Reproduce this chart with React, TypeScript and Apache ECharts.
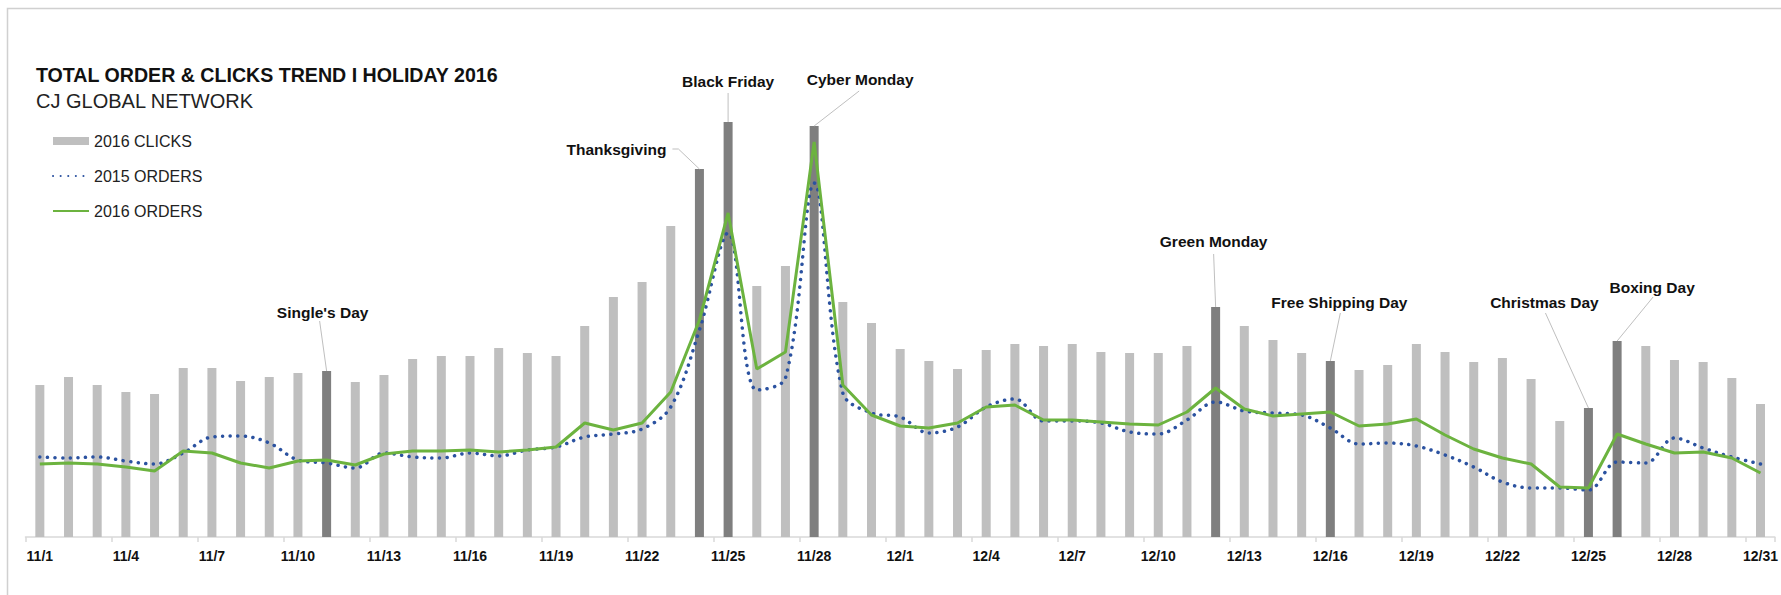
import React, { useEffect, useRef } from "react";
import * as echarts from "echarts";

const days = [
  "11/1", "11/2", "11/3", "11/4", "11/5", "11/6", "11/7", "11/8", "11/9", "11/10",
  "11/11", "11/12", "11/13", "11/14", "11/15", "11/16", "11/17", "11/18", "11/19", "11/20",
  "11/21", "11/22", "11/23", "11/24", "11/25", "11/26", "11/27", "11/28", "11/29", "11/30",
  "12/1", "12/2", "12/3", "12/4", "12/5", "12/6", "12/7", "12/8", "12/9", "12/10",
  "12/11", "12/12", "12/13", "12/14", "12/15", "12/16", "12/17", "12/18", "12/19", "12/20",
  "12/21", "12/22", "12/23", "12/24", "12/25", "12/26", "12/27", "12/28", "12/29", "12/30", "12/31",
];

const clicks2016 = [
  152, 160, 152, 145, 143, 169, 169, 156, 160, 164,
  166, 155, 162, 178, 181, 181, 189, 184, 181, 211,
  240, 255, 311, 368, 415, 251, 271, 411, 235, 214,
  188, 176, 168, 187, 193, 191, 193, 185, 184, 184,
  191, 230, 211, 197, 184, 176, 167, 172, 193, 185,
  175, 179, 158, 116, 129, 196, 191, 177, 175, 159, 133,
];

const orders2015 = [
  80, 79, 80, 76, 73, 84, 100, 101, 94, 77,
  74, 69, 84, 80, 79, 84, 81, 87, 90, 100,
  103, 108, 130, 207, 304, 147, 159, 354, 144, 124,
  120, 104, 110, 130, 138, 116, 116, 114, 105, 103,
  117, 135, 126, 124, 122, 109, 93, 94, 91, 82,
  70, 55, 49, 49, 47, 75, 74, 99, 89, 80, 73,
];

const orders2016 = [
  73, 74, 73, 70, 66, 86, 84, 74, 69, 76,
  77, 72, 83, 86, 86, 87, 85, 87, 90, 114,
  107, 114, 145, 217, 324, 168, 185, 395, 152, 122,
  111, 109, 114, 130, 132, 117, 117, 115, 113, 112,
  125, 149, 128, 121, 123, 125, 111, 113, 118, 102,
  88, 79, 73, 50, 49, 103, 93, 84, 85, 79, 64,
];

const highlightDays = ["11/11", "11/24", "11/25", "11/28", "12/12", "12/16", "12/25", "12/26"];

const eventDays = ["11/11", "11/24", "11/25", "11/28", "12/12", "12/16", "12/25", "12/26"];
const eventNames = [
  "Single's Day", "Thanksgiving", "Black Friday", "Cyber Monday",
  "Green Monday", "Free Shipping Day", "Christmas Day", "Boxing Day",
];

const seriesNames = ["2016 CLICKS", "2015 ORDERS", "2016 ORDERS"];
const titleText = "TOTAL ORDER & CLICKS TREND I HOLIDAY 2016";
const subtitleText = "CJ GLOBAL NETWORK";

// label layout relative to the bar top: text anchor offset, align, leader line points
const eventLayout = [
  { tx: -4, ty: -59, align: "center", pts: [[-7, -50], [0, 0]] },
  { tx: -33, ty: -20, align: "right", pts: [[-27, -20], [-21, -20], [0, 0]] },
  { tx: 0, ty: -41, align: "center", pts: [[0, -29], [0, 0]] },
  { tx: 46, ty: -47, align: "center", pts: [[45, -35], [0, 0]] },
  { tx: -2, ty: -66, align: "center", pts: [[-2, -53], [0, 0]] },
  { tx: 9, ty: -59, align: "center", pts: [[10, -48], [0, 0]] },
  { tx: -44, ty: -106, align: "center", pts: [[-43, -95], [0, 0]] },
  { tx: 35, ty: -54, align: "center", pts: [[36, -44], [0, 0]] },
];

const FONT = "'Liberation Sans', Arial, Helvetica, sans-serif";
const LIGHT = "#bfbfbf";
const DARK = "#7f7f7f";
const GREEN = "#6cb33f";
const BLUE = "#2b52a0";

export default function App() {
  const ref = useRef<HTMLDivElement>(null);

  useEffect(() => {
    const el = ref.current;
    if (!el) return;
    const chart = echarts.init(el, null, { renderer: "svg" });

    const option: any = {
      animation: false,
      backgroundColor: "#ffffff",
      grid: { left: 25.5, right: 3.5, top: 37, bottom: 58, containLabel: false },
      legend: {
        orient: "vertical",
        left: 52,
        top: 133,
        padding: 0,
        itemWidth: 36,
        itemHeight: 8,
        itemGap: 19,
        textStyle: { fontFamily: FONT, fontSize: 16, color: "#222", lineHeight: 16 },
        data: [
          { name: seriesNames[0], icon: "rect" },
          { name: seriesNames[1], itemStyle: { opacity: 0 } },
          { name: seriesNames[2], itemStyle: { opacity: 0 } },
        ],
      },
      xAxis: {
        type: "category",
        data: days,
        boundaryGap: true,
        axisLine: { show: true, lineStyle: { color: "#d9d9d9", width: 1.5 } },
        axisTick: { show: true, interval: 2, length: 5, lineStyle: { color: "#d9d9d9", width: 1.5 } },
        axisLabel: {
          interval: 2,
          margin: 12,
          fontFamily: FONT,
          fontSize: 14,
          fontWeight: "bold",
          color: "#111",
        },
      },
      yAxis: {
        type: "value",
        min: 0,
        max: 500,
        show: false,
        splitLine: { show: false },
      },
      series: [
        {
          name: seriesNames[0],
          type: "bar",
          barWidth: 9,
          itemStyle: { color: LIGHT },
          data: clicks2016.map((v, i) =>
            highlightDays.includes(days[i]) ? { value: v, itemStyle: { color: DARK } } : v
          ),
          z: 1,
        },
        {
          name: seriesNames[1],
          type: "line",
          symbol: "none",
          smooth: 0.35,
          color: BLUE,
          lineStyle: { color: BLUE, width: 3.5, type: [0.1, 7.5], cap: "round" },
          data: orders2015,
          z: 3,
        },
        {
          name: seriesNames[2],
          type: "line",
          symbol: "none",
          smooth: false,
          color: GREEN,
          lineStyle: { color: GREEN, width: 3 },
          data: orders2016,
          z: 4,
        },
      ],
    };
    chart.setOption(option);

    const graphics: any[] = [
      {
        type: "rect",
        silent: true,
        shape: { x: 7.5, y: 8.5, width: 1900, height: 900 },
        style: { fill: "none", stroke: "#d0d0d0", lineWidth: 1.5 },
        z: 0,
      },
      {
        type: "text",
        x: 36,
        y: 75,
        style: {
          text: titleText,
          fontFamily: FONT,
          fontSize: 19.6,
          fontWeight: "bold",
          fill: "#111",
          align: "left",
          verticalAlign: "middle",
        },
      },
      {
        type: "text",
        x: 36,
        y: 100.5,
        style: {
          text: subtitleText,
          fontFamily: FONT,
          fontSize: 20,
          fill: "#222",
          align: "left",
          verticalAlign: "middle",
        },
      },
    ];

    eventDays.forEach((d, k) => {
      const idx = days.indexOf(d);
      const p = chart.convertToPixel({ seriesIndex: 0 }, [idx, clicks2016[idx]]) as number[];
      const lay = eventLayout[k];
      graphics.push({
        type: "polyline",
        silent: true,
        shape: { points: lay.pts.map(([dx, dy]) => [p[0] + dx, p[1] + dy]) },
        style: { stroke: "#bfbfbf", lineWidth: 1, fill: null },
        z: 5,
      });
      graphics.push({
        type: "text",
        x: p[0] + lay.tx,
        y: p[1] + lay.ty,
        style: {
          text: eventNames[k],
          fontFamily: FONT,
          fontSize: 15.5,
          fontWeight: "bold",
          fill: "#111",
          align: lay.align,
          verticalAlign: "middle",
        },
        z: 5,
      });
    });

    chart.setOption({ graphic: graphics });

    return () => chart.dispose();
  }, []);

  return (
    <div
      ref={ref}
      style={{ position: "fixed", left: 0, top: 0, width: 1781, height: 595, background: "#fff" }}
    />
  );
}
